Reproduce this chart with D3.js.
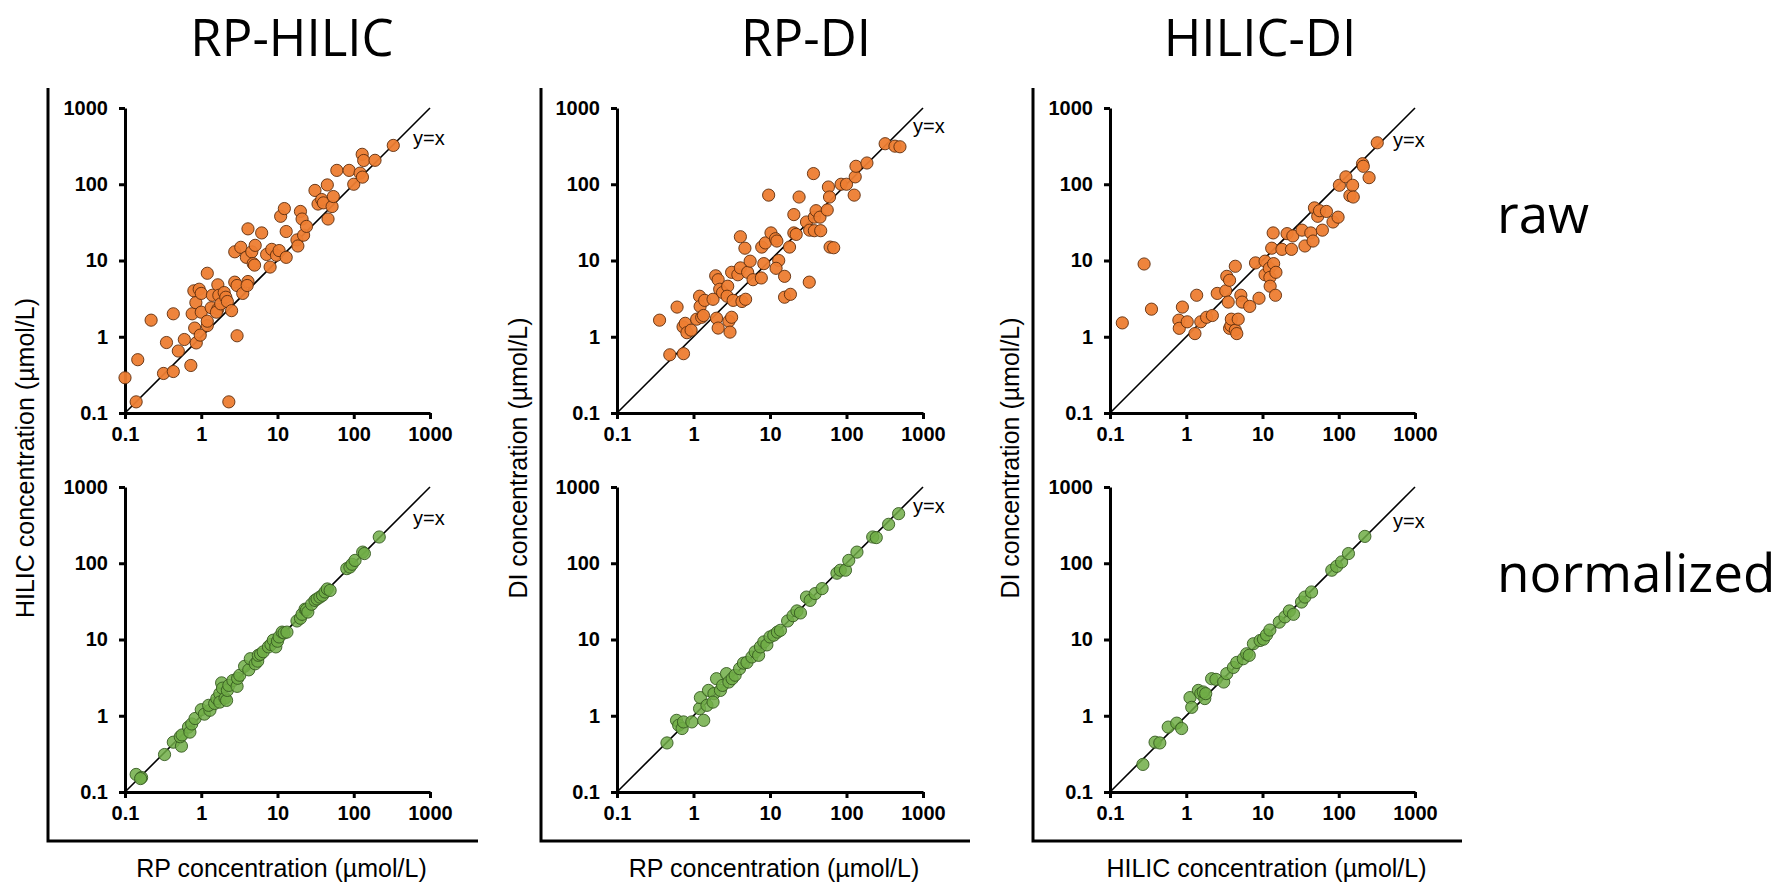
<!DOCTYPE html>
<html>
<head>
<meta charset="utf-8">
<script src="https://cdn.jsdelivr.net/npm/d3@7/dist/d3.min.js"></script>
<style>
  body { margin: 0; background: #fff; }
</style>
</head>
<body>
<div id="chart"></div>
<script>
// ---- data (µmol/L) ----
const rawRpHilic = [
  [0.1,0.29],[0.14,0.14],[0.147,0.5],[0.22,1.65],[0.35,0.84],[0.32,0.33],[0.43,0.35],[0.43,2.0],
  [0.5,0.65],[0.6,0.92],[0.73,0.42],[0.76,2.0],[0.8,4.0],[0.85,2.8],[0.82,1.3],[0.86,0.83],
  [0.94,4.2],[1.0,3.7],[1.0,2.1],[0.97,1.05],[1.2,6.8],[1.2,1.4],[1.2,1.6],[1.35,2.4],[1.4,3.5],
  [1.65,4.8],[1.7,3.5],[1.65,2.3],[1.58,2.1],[1.8,2.7],[2.0,3.8],[2.1,3.3],[2.2,2.9],[2.3,0.14],
  [2.5,2.2],[2.75,13],[2.75,5.2],[2.95,4.7],[2.95,1.03],[3.3,14.9],[3.5,3.7],[3.9,11],[4.1,26],
  [4.1,5.3],[4.0,4.7],[4.6,13],[4.8,9.1],[5.1,15.8],[5.0,8.7],[6.2,23],[7.2,12],[8.0,8.2],
  [8.4,14],[9.7,11.7],[10.5,13.5],[11,38],[12.3,48],[13,11],[13,24],[18,18.6],[18.5,15.5],
  [20,44],[21,35],[22,21.5],[24,28],[31,83],[34,55],[38,63],[40,57],[45,98],[46,35],[52,51],
  [54,69],[60,152],[87,152],[100,100],[121,140],[129,247],[130,124],[135,205],[190,206],[330,323]
];
const rawRpDi = [
  [0.36,1.65],[0.49,0.58],[0.61,2.45],[0.74,0.6],[0.73,1.35],[0.78,1.5],[0.82,1.13],[0.93,1.22],
  [1.1,1.7],[1.2,3.4],[1.22,2.5],[1.28,1.8],[1.35,1.9],[1.4,3.0],[1.8,3.1],[1.95,6.3],[2.1,5.6],
  [2.0,1.75],[2.1,1.3],[2.2,4.2],[2.4,3.8],[2.8,4.6],[2.75,3.4],[2.9,1.6],[3.0,1.15],[3.15,1.8],
  [3.15,7.0],[3.3,3.0],[3.8,6.5],[4.1,20.5],[4.1,8.0],[4.3,2.9],[4.7,14.5],[4.8,3.1],[5.1,7.0],
  [5.5,9.8],[6.0,5.6],[7.7,5.9],[7.8,15],[8.3,9.1],[8.7,17],[9.6,72],[10.3,23],[11.8,19.3],
  [12.3,18],[13,10],[12,7.9],[15.5,6.2],[15.5,3.3],[18,15],[18.5,3.6],[20.5,40],[20.5,23],
  [22,22],[24,68],[30,32],[32.6,5.2],[33,25],[37,138],[38,37],[40,45],[38,24.6],[45,37],
  [46,24.6],[56,46],[58,92],[60,68],[61,15],[68,14.7],[85,100],[100,100],[126,72],[130,125],
  [133,172],[185,190],[320,340],[430,316],[500,310]
];
const rawHilicDi = [
  [0.145,1.52],[0.28,9.0],[0.35,2.3],[0.8,1.65],[0.81,1.29],[0.89,2.45],[1.03,1.57],[1.3,1.1],
  [1.37,3.5],[1.55,1.57],[1.85,1.8],[2.2,1.9],[2.55,3.7],[3.3,4.0],[3.4,6.2],[3.7,5.5],[3.55,2.85],
  [3.7,1.29],[3.85,1.4],[3.9,1.7],[4.4,1.22],[4.6,1.1],[4.8,1.7],[4.4,8.4],[5.2,3.5],[5.4,2.85],
  [6.8,2.5],[8.1,9.3],[9.0,3.2],[10.8,9.8],[10.8,6.5],[12.3,7.9],[12.5,6.0],[12.6,4.6],[13.2,14.5],
  [13.8,23],[14,9.1],[15,7.0],[14.8,3.5],[18,14],[21,22.5],[24,14],[25,21],[33,25],[36,15.5],
  [43,23],[46,18],[48,49],[53,38],[56,45],[61,25],[69,44],[84,32],[98,37],[102,97],[124,125],
  [140,71],[152,97],[155,68],[205,186],[210,172],[250,122],[320,350]
];
const normRpHilic = [
  [0.14,0.17],[0.165,0.155],[0.16,0.15],[0.33,0.31],[0.43,0.45],[0.55,0.40],[0.53,0.53],[0.56,0.56],
  [0.68,0.71],[0.71,0.61],[0.75,0.78],[0.83,0.92],[1.0,1.2],[1.1,1.05],[1.3,1.18],[1.25,1.37],
  [1.5,1.45],[1.6,1.68],[1.75,1.95],[1.85,2.7],[1.9,2.3],[1.75,1.51],[2.05,1.7],[2.15,1.59],
  [2.2,2.15],[2.3,2.5],[2.6,2.9],[2.95,2.43],[3.0,3.1],[3.2,3.4],[3.7,4.45],[4.2,4.0],[4.4,5.6],
  [5.1,4.8],[5.5,5.2],[5.6,6.2],[6.0,6.4],[6.5,6.9],[7.6,8.0],[8.2,8.6],[8.8,9.8],[9.5,8.0],
  [10,9.5],[10.5,10.8],[11.5,12.5],[12.2,12.2],[13.3,12.5],[18,17.5],[20,19],[21,21.4],
  [23,25],[24,24.6],[25,22.9],[28,29],[31,32.6],[33,34],[36,36],[39,38],[42,42],[45,46],
  [49,44],[81,85],[89,89],[95,97],[104,109],[131,140],[138,134],[216,221]
];
const normRpDi = [
  [0.45,0.44],[0.60,0.87],[0.64,0.75],[0.71,0.68],[0.74,0.83],[0.95,0.83],[1.36,0.87],[1.2,1.24],
  [1.23,1.73],[1.5,1.37],[1.57,2.15],[1.85,1.95],[1.8,1.51],[2.0,3.06],[2.25,2.15],[2.4,2.5],
  [2.7,3.57],[2.9,2.77],[3.2,3.06],[3.5,3.4],[4.0,4.14],[4.5,4.9],[5.0,5.0],[5.8,5.9],[6.4,6.9],
  [7.1,6.2],[7.5,8.0],[8.3,9.3],[9.1,8.5],[10,10.8],[11.2,11.4],[12.5,12.5],[13.7,13.2],
  [17,17.5],[20,20.5],[22.5,23.7],[25,22.3],[30,36],[33.5,32.6],[39,40],[48,46.5],[75,74],
  [83,81],[97,81],[107,109],[137,140],[220,221],[245,217],[355,324],[480,447]
];
const normHilicDi = [
  [0.27,0.23],[0.39,0.45],[0.45,0.44],[0.58,0.71],[0.75,0.8],[0.87,0.68],[1.12,1.73],[1.18,1.29],
  [1.44,2.15],[1.55,1.95],[1.75,1.68],[1.67,2.05],[1.8,1.95],[2.15,3.06],[2.45,3.0],[3.1,2.77],
  [3.4,3.57],[4.15,4.3],[4.6,5.0],[5.6,5.6],[6.2,6.5],[6.7,6.2],[7.6,8.8],[9.3,9.7],[10.3,10.1],
  [11.3,11.5],[12.5,13.3],[16.6,16.9],[19.7,19.8],[22.5,23.7],[25.5,21.4],[32.5,31],[36,36],
  [44,42],[81,81],[94,91],[109,104],[134,134],[220,225]
];

const tickVals = [0.1, 1, 10, 100, 1000];
const tickLabels = ["0.1", "1", "10", "100", "1000"];
const colTitles = ["RP-HILIC", "RP-DI", "HILIC-DI"];
const rowLabels = ["raw", "normalized"];
const xTitles = ["RP concentration (µmol/L)", "RP concentration (µmol/L)", "HILIC concentration (µmol/L)"];
const yTitles = ["HILIC concentration (µmol/L)", "DI concentration (µmol/L)", "DI concentration (µmol/L)"];
const panelData = [
  [rawRpHilic, rawRpDi, rawHilicDi],
  [normRpHilic, normRpDi, normHilicDi]
];

// ---- layout ----
const width = 1780, height = 882;
const frameTop = 88, frameBottom = 841;
const cols = [
  {frame: 48,   right: 478,  x0: 125,  x1: 430,  title: 292,  yxDx: 288},
  {frame: 541,  right: 970,  x0: 617,  x1: 923,  title: 806,  yxDx: 296},
  {frame: 1033, right: 1462, x0: 1110, x1: 1415, title: 1260, yxDx: 283}
];
const rows = [
  {y0: 108, y1: 413, fill: "#ED7D31", stroke: "#5e2d0c", op: 0.95, yxDy: [37, 25, 39], labelY: 233},
  {y0: 487, y1: 792, fill: "#70AD47", stroke: "#365a20", op: 0.85, yxDy: [38, 26, 41], labelY: 592}
];

const svg = d3.select("#chart")
  .append("svg")
  .attr("width", width)
  .attr("height", height)
  .style("font-family", "'Liberation Sans', Arial, sans-serif");

// column titles
svg.selectAll(".col-title")
  .data(colTitles)
  .join("text")
    .attr("class", "col-title")
    .attr("x", (d, i) => cols[i].title)
    .attr("y", 56)
    .attr("text-anchor", "middle")
    .style("font-family", "'Open Sans', 'Noto Sans', sans-serif")
    .style("font-size", "51px")
    .text(d => d);

// row labels on the right
svg.selectAll(".row-label")
  .data(rowLabels)
  .join("text")
    .attr("class", "row-label")
    .attr("x", 1497)
    .attr("y", (d, i) => rows[i].labelY)
    .style("font-family", "'Open Sans', 'Noto Sans', sans-serif")
    .style("font-size", "53px")
    .text(d => d);

cols.forEach(function(c, ci) {
  // big L-shaped frame around each column
  svg.append("path")
    .attr("d", `M${c.frame},${frameTop}V${frameBottom}H${c.right}`)
    .attr("fill", "none")
    .attr("stroke", "#000")
    .attr("stroke-width", 3);

  // y title (rotated)
  svg.append("text")
    .attr("transform", `translate(${c.frame - 14},${458}) rotate(-90)`)
    .attr("text-anchor", "middle")
    .style("font-size", "25px")
    .text(yTitles[ci]);

  // x title
  svg.append("text")
    .attr("x", (c.x0 + c.x1) / 2 + 4)
    .attr("y", 877)
    .attr("text-anchor", "middle")
    .style("font-size", "25px")
    .text(xTitles[ci]);

  rows.forEach(function(r, ri) {
    const data = panelData[ri][ci];

    const x = d3.scaleLog().domain([0.1, 1000]).range([c.x0, c.x1]);
    const y = d3.scaleLog().domain([0.1, 1000]).range([r.y1, r.y0]);

    const g = svg.append("g");

    const xAxis = g.append("g")
      .attr("transform", `translate(0,${r.y1})`)
      .call(d3.axisBottom(x).tickValues(tickVals)
        .tickFormat((d, i) => tickLabels[i]).tickSize(6).tickSizeOuter(0).tickPadding(8));
    const yAxis = g.append("g")
      .attr("transform", `translate(${c.x0},0)`)
      .call(d3.axisLeft(y).tickValues(tickVals)
        .tickFormat((d, i) => tickLabels[i]).tickSize(6).tickSizeOuter(0).tickPadding(11));

    [xAxis, yAxis].forEach(function(a) {
      a.attr("font-family", "'Liberation Sans', Arial, sans-serif")
        .attr("font-size", 20)
        .attr("font-weight", "bold");
      a.select(".domain").attr("stroke-width", 3);
      a.selectAll(".tick line").attr("stroke-width", 3);
      a.selectAll(".tick text").attr("fill", "#000");
    });

    // y = x reference line
    g.append("line")
      .attr("x1", x(0.1)).attr("y1", y(0.1))
      .attr("x2", x(1000)).attr("y2", y(1000))
      .attr("stroke", "#000")
      .attr("stroke-width", 1.6);

    g.append("text")
      .attr("x", c.x0 + c.yxDx)
      .attr("y", r.y0 + r.yxDy[ci])
      .style("font-size", "20px")
      .text("y=x");

    g.append("g")
      .selectAll("circle")
      .data(data)
      .join("circle")
        .attr("cx", d => x(d[0]))
        .attr("cy", d => y(d[1]))
        .attr("r", 6.1)
        .attr("fill", r.fill)
        .attr("fill-opacity", r.op)
        .attr("stroke", r.stroke)
        .attr("stroke-width", 0.9);
  });
});
</script>
</body>
</html>
